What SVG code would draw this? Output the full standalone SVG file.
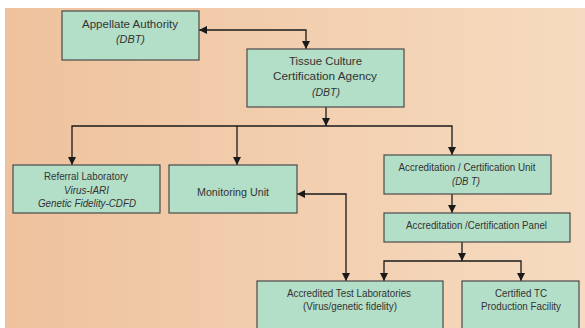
<svg xmlns="http://www.w3.org/2000/svg" width="585" height="328" viewBox="0 0 585 328">
<defs>
<linearGradient id="bg" x1="0" y1="0" x2="1" y2="0">
<stop offset="0" stop-color="#EEC29D"/>
<stop offset="1" stop-color="#F6DBC0"/>
</linearGradient>
<marker id="ah" viewBox="0 0 8 8" refX="8" refY="4" markerWidth="8" markerHeight="8" markerUnits="userSpaceOnUse" orient="auto-start-reverse">
<path d="M0,0 L8,4 L0,8 z" fill="#1a1a1a"/>
</marker>
<style>
.box{fill:#B3DEC8;stroke:#4a4a4a;stroke-width:1.2}
.t{font-family:"Liberation Sans",Arial,sans-serif;font-size:11.5px;fill:#333;text-anchor:middle}
.i{font-style:italic}
.c{fill:none;stroke:#1a1a1a;stroke-width:1.3}
</style>
</defs>
<rect x="0" y="0" width="585" height="328" fill="#fff"/>
<rect x="5" y="8" width="580" height="320" fill="url(#bg)"/>

<g id="connectors">
<path class="c" d="M306,49 V30 H199" marker-start="url(#ah)" marker-end="url(#ah)"/>
<path class="c" d="M326,107 V126" marker-end="url(#ah)"/>
<path class="c" d="M72,165 V126 H452 V155" marker-start="url(#ah)" marker-end="url(#ah)"/>
<path class="c" d="M237,126 V165" marker-end="url(#ah)"/>
<path class="c" d="M452,194 V213" marker-end="url(#ah)"/>
<path class="c" d="M462,242 V261" marker-end="url(#ah)"/>
<path class="c" d="M384,281 V261 H521 V281" marker-start="url(#ah)" marker-end="url(#ah)"/>
<path class="c" d="M297,194 H346 V281" marker-start="url(#ah)" marker-end="url(#ah)"/>
</g>

<g id="appellate">
<rect class="box" x="62" y="11" width="137" height="49"/>
<text class="t" x="130" y="28" textLength="96" lengthAdjust="spacingAndGlyphs">Appellate Authority</text>
<text class="t i" x="130.5" y="43" textLength="29" lengthAdjust="spacingAndGlyphs">(DBT)</text>
</g>

<g id="tissue">
<rect class="box" x="247" y="49" width="157" height="58"/>
<text class="t" x="325.5" y="65" textLength="73" lengthAdjust="spacingAndGlyphs">Tissue Culture</text>
<text class="t" x="325" y="80" textLength="104" lengthAdjust="spacingAndGlyphs">Certification Agency</text>
<text class="t i" x="326" y="96" textLength="28" lengthAdjust="spacingAndGlyphs">(DBT)</text>
</g>

<g id="referral">
<rect class="box" x="13" y="165" width="147" height="48"/>
<text class="t" x="86" y="180" textLength="84" lengthAdjust="spacingAndGlyphs">Referral Laboratory</text>
<text class="t i" x="86.5" y="194" textLength="45" lengthAdjust="spacingAndGlyphs">Virus-IARI</text>
<text class="t i" x="87" y="207" textLength="98" lengthAdjust="spacingAndGlyphs">Genetic Fidelity-CDFD</text>
</g>

<g id="monitoring">
<rect class="box" x="169" y="165" width="128" height="48"/>
<text class="t" x="233" y="196" textLength="72" lengthAdjust="spacingAndGlyphs">Monitoring Unit</text>
</g>

<g id="acc-unit">
<rect class="box" x="384" y="155" width="167" height="39"/>
<text class="t" x="467" y="171" textLength="137" lengthAdjust="spacingAndGlyphs">Accreditation / Certification Unit</text>
<text class="t i" x="466" y="185" textLength="28" lengthAdjust="spacingAndGlyphs">(DB T)</text>
</g>

<g id="acc-panel">
<rect class="box" x="384" y="213" width="186" height="29"/>
<text class="t" x="476.5" y="229" textLength="141" lengthAdjust="spacingAndGlyphs">Accreditation /Certification Panel</text>
</g>

<g id="labs">
<rect class="box" x="257" y="281" width="186" height="52"/>
<text class="t" x="349" y="297" textLength="124" lengthAdjust="spacingAndGlyphs">Accredited Test Laboratories</text>
<text class="t" x="350" y="310" textLength="94" lengthAdjust="spacingAndGlyphs">(Virus/genetic fidelity)</text>
</g>

<g id="certified">
<rect class="box" x="462" y="281" width="117" height="52"/>
<text class="t" x="521" y="297" textLength="52" lengthAdjust="spacingAndGlyphs">Certified TC</text>
<text class="t" x="521" y="310" textLength="80" lengthAdjust="spacingAndGlyphs">Production Facility</text>
</g>
</svg>
